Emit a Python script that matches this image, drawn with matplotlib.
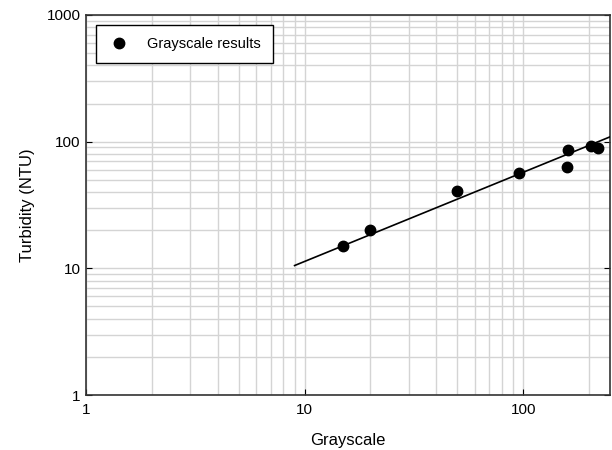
import matplotlib.pyplot as plt
from matplotlib.ticker import FixedLocator, NullFormatter, FuncFormatter
import numpy as np

plt.rcParams['font.family'] = ['Liberation Sans', 'DejaVu Sans']

# measured points
grayscale = [15, 20, 50, 96, 160, 159, 204, 219]
turbidity = [15.1, 20.1, 41, 56.5, 85.4, 63, 92.9, 89.5]

# power-law fit y = a * x^b
fit_a = 2.24
fit_b = 0.704
fit_x = np.array([9, 250])
fit_y = fit_a * fit_x ** fit_b

fig = plt.figure(figsize=(6.12, 4.5), dpi=100)
ax = fig.add_axes([0.1405, 0.1222, 0.8565, 0.8445])

ax.set_xscale('log')
ax.set_yscale('log')
ax.set_xlim(1, 250)
ax.set_ylim(1, 1000)

ax.grid(True, which='both', color='#d4d4d4', linewidth=1.0)
ax.set_axisbelow(True)

ax.plot(fit_x, fit_y, color='black', linewidth=1.2, zorder=3)
ax.plot(grayscale, turbidity, 'o', color='black', markersize=7.5,
        label='Grayscale results', zorder=4)

fmt = FuncFormatter(lambda v, p: '%g' % v)
ax.xaxis.set_major_locator(FixedLocator([1, 10, 100]))
ax.yaxis.set_major_locator(FixedLocator([1, 10, 100, 1000]))
ax.xaxis.set_major_formatter(fmt)
ax.yaxis.set_major_formatter(fmt)
ax.xaxis.set_minor_formatter(NullFormatter())
ax.yaxis.set_minor_formatter(NullFormatter())
ax.tick_params(which='major', direction='in', length=4, labelsize=11,
               top=False, right=True)
ax.tick_params(axis='x', which='major', pad=5.5)
ax.tick_params(axis='y', which='major', pad=4)
ax.tick_params(which='minor', length=0)

for s in ax.spines.values():
    s.set_color('#333333')
    s.set_linewidth(1.2)

ax.set_xlabel('Grayscale', fontsize=12, labelpad=12)
ax.set_ylabel('Turbidity (NTU)', fontsize=12, labelpad=8.5)

leg = ax.legend(loc='upper left', frameon=True, fancybox=False, fontsize=10.5,
                borderpad=0.8, handletextpad=1.2, borderaxespad=0.7,
                handlelength=1.5)
leg.get_frame().set_edgecolor('black')
leg.get_frame().set_linewidth(1.0)
leg.get_frame().set_alpha(1)

fig.savefig('out.png', dpi=100)
